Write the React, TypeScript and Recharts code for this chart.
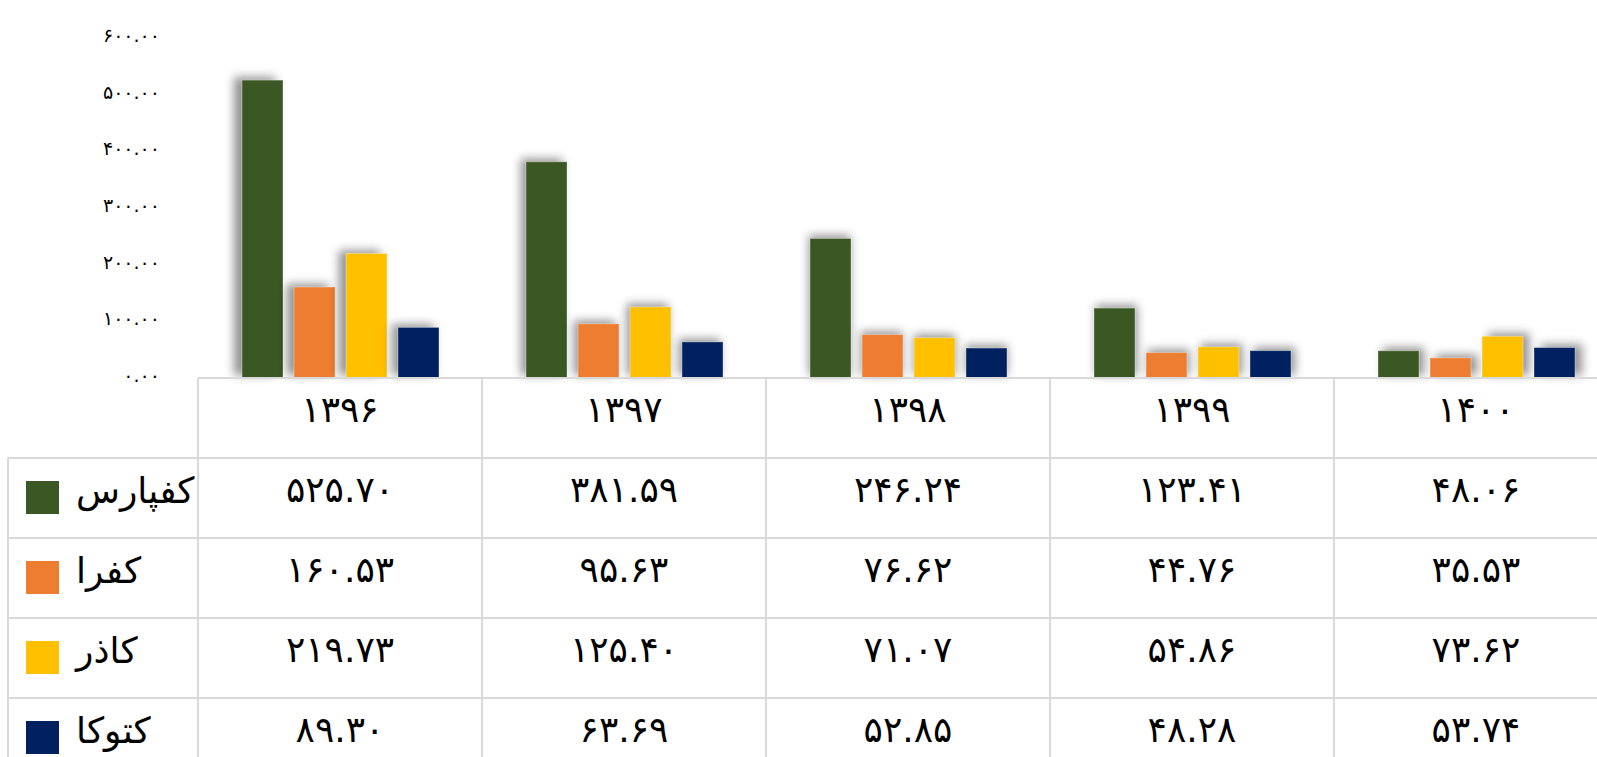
import { Bar, BarChart, XAxis, YAxis } from "recharts";

const years = ["۱۳۹۶", "۱۳۹۷", "۱۳۹۸", "۱۳۹۹", "۱۴۰۰"];
const seriesKeys = ["kafpars", "kafra", "kazar", "ktoka"];
const seriesNames = ["کفپارس", "کفرا", "کاذر", "کتوکا"];
const seriesColors = ["#3A5724", "#ED7D31", "#FFC000", "#002060"];

const kafpars = [525.7, 381.59, 246.24, 123.41, 48.06];
const kafra = [160.53, 95.63, 76.62, 44.76, 35.53];
const kazar = [219.73, 125.4, 71.07, 54.86, 73.62];
const ktoka = [89.3, 63.69, 52.85, 48.28, 53.74];

const yTicks = [0, 100, 200, 300, 400, 500, 600];

const seriesValues = [kafpars, kafra, kazar, ktoka];

const data = years.map((year, i) => ({
  year,
  kafpars: kafpars[i],
  kafra: kafra[i],
  kazar: kazar[i],
  ktoka: ktoka[i],
}));

const font = "'DejaVu Sans', sans-serif";
const grid = "#d9d9d9";
const rowH = 80;
const legendW = 190;

// ascii digits -> persian digits
const fa = (s: string) => s.replace(/\d/g, (d) => "۰۱۲۳۴۵۶۷۸۹"[+d]);

const PLOT_CENTER = 908;

function ShadowBar(props: any) {
  const { x, y, width, height, fill } = props;
  if (!height || height <= 0) return null;
  const cx = x + width / 2;
  const dx = ((cx - PLOT_CENTER) / 710) * 8;
  return (
    <rect
      x={x}
      y={y}
      width={width}
      height={height}
      fill={fill}
      stroke="rgba(255,255,255,0.35)"
      strokeWidth={1}
      style={{ filter: `drop-shadow(${dx.toFixed(1)}px -3px 5px rgba(0,0,0,0.42))` }}
    />
  );
}

function YTick(props: any) {
  const { x, y, payload } = props;
  return (
    <text
      x={x - 30}
      y={y + 4}
      textAnchor="end"
      fontSize={19}
      fontFamily={font}
      fill="#000"
    >
      {fa(Number(payload.value).toFixed(2))}
    </text>
  );
}

function TableColumn(props: any) {
  const { x, y, payload, index, width } = props;
  const i = payload?.index ?? index;
  const half = payload?.offset || width / years.length / 2;
  const left = x - half;
  const right = x + half;
  const rows = seriesNames.length;
  const bottom = y + rowH * (rows + 1);

  return (
    <g>
      {/* column borders */}
      <line x1={left} y1={y} x2={left} y2={bottom} stroke={grid} strokeWidth={2} />
      <line x1={right} y1={y} x2={right} y2={bottom} stroke={grid} strokeWidth={2} />
      {Array.from({ length: rows + 1 }, (_, r) => (
        <line
          key={r}
          x1={left}
          y1={y + rowH * (r + 1)}
          x2={right}
          y2={y + rowH * (r + 1)}
          stroke={grid}
          strokeWidth={2}
        />
      ))}
      <text x={x} y={y + 44} textAnchor="middle" fontSize={36} fontFamily={font} fill="#000">
        {payload.value}
      </text>
      {seriesValues.map((vals, r) => (
        <text
          key={r}
          x={x}
          y={y + rowH * (r + 1) + 44}
          textAnchor="middle"
          fontSize={36}
          fontFamily={font}
          fill="#000"
        >
          {fa(vals[i].toFixed(2))}
        </text>
      ))}

      {i === 0 && (
        <g>
          <line
            x1={left - legendW}
            y1={y + rowH}
            x2={left - legendW}
            y2={bottom}
            stroke={grid}
            strokeWidth={2}
          />
          {Array.from({ length: rows + 1 }, (_, r) => (
            <line
              key={r}
              x1={left - legendW}
              y1={y + rowH * (r + 1)}
              x2={left}
              y2={y + rowH * (r + 1)}
              stroke={grid}
              strokeWidth={2}
            />
          ))}
          {seriesNames.map((name, r) => (
            <g key={name}>
              <rect
                x={left - legendW + 18}
                y={y + rowH * (r + 1) + 23}
                width={33}
                height={33}
                fill={seriesColors[r]}
              />
              <text
                x={left - legendW + 68}
                y={y + rowH * (r + 1) + 45}
                textAnchor="start"
                fontSize={36}
                fontFamily={font}
                fill="#000"
              >
                {name}
              </text>
            </g>
          ))}
        </g>
      )}
    </g>
  );
}

export default function App() {
  return (
    <div
      style={{
        position: "fixed",
        left: 0,
        top: 0,
        width: 1597,
        height: 757,
        overflow: "hidden",
        background: "#fff",
      }}
    >
      <BarChart
        width={1640}
        height={780}
        data={data}
        margin={{ top: 38, right: 22, left: 0, bottom: 0 }}
        barSize={41}
        barGap={11}
      >
        <YAxis
          width={198}
          domain={[0, 600]}
          ticks={yTicks}
          axisLine={false}
          tickLine={false}
          tick={<YTick />}
          interval={0}
        />
        <XAxis
          dataKey="year"
          height={402}
          interval={0}
          tickLine={false}
          tickSize={0}
          tickMargin={0}
          axisLine={{ stroke: grid, strokeWidth: 2 }}
          tick={<TableColumn />}
        />
        {seriesKeys.map((k, s) => (
          <Bar
            key={k}
            dataKey={k}
            fill={seriesColors[s]}
            shape={<ShadowBar />}
            isAnimationActive={false}
          />
        ))}
      </BarChart>
    </div>
  );
}
